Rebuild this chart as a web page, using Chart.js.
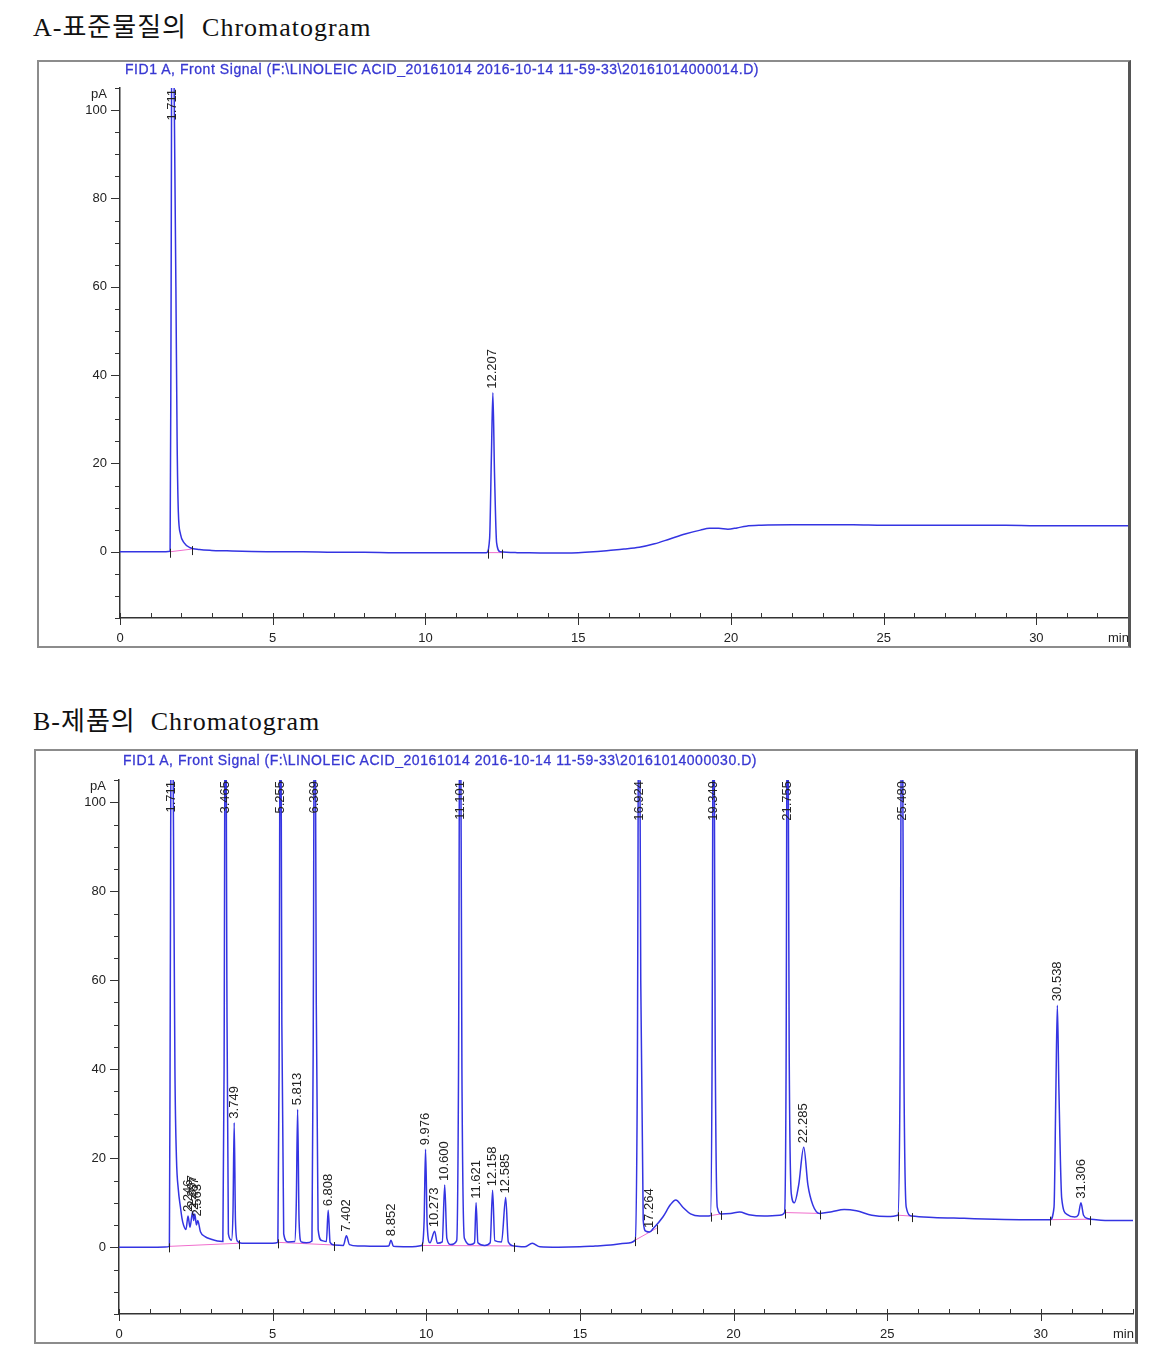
<!DOCTYPE html>
<html lang="ko">
<head>
<meta charset="utf-8">
<title>Chromatogram</title>
<script src="https://cdn.jsdelivr.net/npm/chart.js@4.4.1/dist/chart.umd.min.js"></script>
<style>
  html, body { margin: 0; padding: 0; background: #fff; }
  body { position: relative; width: 1155px; height: 1352px; overflow: hidden; }
  .caption { position: absolute; font-family: "Liberation Serif", "Noto Sans CJK KR", serif; font-size: 26px; line-height: 30px; color: #111; white-space: nowrap; letter-spacing: 1px; }
  .frame { position: absolute; box-sizing: border-box; border: 2px solid #8c8c8c; border-right: 3px solid #555; background: #fff; }
  .frame canvas { display: block; }
  .signal { position: absolute; font-family: "Liberation Sans", Arial, sans-serif; font-size: 14px; letter-spacing: 0.55px; color: #3838d2; white-space: nowrap; -webkit-text-stroke: 0.3px #3838d2; }
</style>
</head>
<body>

<div class="caption" style="left:33px; top:13px;">A-표준물질의 &nbsp;Chromatogram</div>
<div class="frame" style="left:37px; top:60px; width:1094px; height:588px;">
  <canvas id="chartA" width="1089" height="584"></canvas>
</div>
<div class="signal" style="left:125px; top:61px;">FID1 A, Front Signal (F:\LINOLEIC ACID_20161014 2016-10-14 11-59-33\20161014000014.D)</div>

<div class="caption" style="left:33px; top:707px;">B-제품의 &nbsp;Chromatogram</div>
<div class="frame" style="left:34px; top:749px; width:1104px; height:595px;">
  <canvas id="chartB" width="1099" height="591"></canvas>
</div>
<div class="signal" style="left:123px; top:752px;">FID1 A, Front Signal (F:\LINOLEIC ACID_20161014 2016-10-14 11-59-33\20161014000030.D)</div>

<script>
// ── 축 눈금 ────────────────────────────────────────────────
const xMajorTicks = [0, 5, 10, 15, 20, 25, 30];
const xMinorTicks = [0, 1, 2, 3, 4, 5, 6, 7, 8, 9, 10, 11, 12, 13, 14, 15, 16,
                     17, 18, 19, 20, 21, 22, 23, 24, 25, 26, 27, 28, 29, 30, 31, 32, 33];
const yMajorTicks = [0, 20, 40, 60, 80, 100];
const yMinorTicks = [-15, -10, -5, 0, 5, 10, 15, 20, 25, 30, 35, 40, 45, 50, 55,
                     60, 65, 70, 75, 80, 85, 90, 95, 100, 105];

// ── A: 표준물질 (min, pA) ──────────────────────────────────
const stdTime = [0, 0.5, 1.0, 1.5, 1.64, 1.67, 1.711, 1.76, 1.83, 1.87, 1.91, 1.98,
                 2.1, 2.3, 2.6, 3.0, 3.5, 4.0, 5.0, 6.0, 7.0, 8.0, 9.0, 10.0, 11.0,
                 12.0, 12.1, 12.16, 12.207, 12.26, 12.33, 12.45, 13.0, 14.0, 15.0,
                 15.5, 16.0, 16.5, 17.0, 17.5, 18.0, 18.5, 19.0, 19.3, 19.6, 19.9, 20.2, 20.5,
                 21.0, 22.0, 23.0, 24.0, 25.0, 26.0, 27.0, 28.0, 29.0, 30.0, 31.0, 32.0, 33.0];
const stdSignal = [0, 0, 0, 0, 0.1, 50, 150, 115, 60, 25, 9, 4,
                   2, 0.9, 0.5, 0.3, 0.2, 0.1, 0, 0, -0.1, -0.1, -0.2, -0.2, -0.2,
                   -0.2, 3, 22, 36, 18, 2, 0, -0.2, -0.3, -0.2,
                   0, 0.3, 0.6, 1.0, 1.8, 2.9, 4.0, 4.9, 5.3, 5.3, 5.1, 5.4, 5.8,
                   6.0, 6.1, 6.1, 6.1, 6.0, 6.0, 6.0, 6.0, 6.0, 5.9, 5.9, 5.9, 5.9];
const stdPeaks = [1.711, 12.207];
const stdBaseTime = [1.64, 2.35, 2.36, 12.05, 12.52];
const stdBaseSignal = [0, 0.6, null, -0.2, -0.2];

// ── B: 제품 (min, pA) ──────────────────────────────────────
const sampleTime = [
  0, 0.5, 1.0, 1.5, 1.64, 1.67, 1.711, 1.76, 1.82, 1.87, 1.93, 2.0, 2.05, 2.10, 2.18,
  2.246, 2.31, 2.397, 2.43, 2.467, 2.52, 2.563, 2.65, 2.8, 3.0, 3.2, 3.38, 3.42, 3.465,
  3.51, 3.56, 3.66, 3.71, 3.749, 3.79, 3.85, 4.0, 4.5, 5.0, 5.17, 5.21, 5.255, 5.30,
  5.36, 5.5, 5.72, 5.77, 5.813, 5.86, 5.93, 6.1, 6.28, 6.32, 6.369, 6.42, 6.48, 6.6,
  6.75, 6.808, 6.87, 7.0, 7.3, 7.402, 7.5, 7.8, 8.3, 8.78, 8.852, 8.93, 9.4, 9.85,
  9.93, 9.976, 10.03, 10.12, 10.273, 10.36, 10.52, 10.600, 10.67, 10.80, 10.99, 11.05,
  11.101, 11.16, 11.24, 11.45, 11.57, 11.621, 11.68, 11.9, 12.08, 12.158, 12.23, 12.45,
  12.585, 12.67, 12.85, 13.2, 13.45, 13.7, 14.3, 15.0, 15.5, 16.0, 16.5, 16.8, 16.87,
  16.924, 16.98, 17.06, 17.15, 17.264, 17.4, 17.7, 17.95, 18.12, 18.35, 18.6, 18.9,
  19.25, 19.30, 19.349, 19.40, 19.47, 19.6, 19.9, 20.2, 20.5, 21.0, 21.5, 21.66, 21.71,
  21.755, 21.81, 21.88, 21.98, 22.12, 22.285, 22.42, 22.58, 22.8, 23.2, 23.6, 24.0,
  24.5, 25.0, 25.35, 25.42, 25.480, 25.54, 25.62, 25.8, 26.5, 27.5, 28.5, 29.5, 30.3,
  30.43, 30.49, 30.538, 30.59, 30.68, 30.85, 31.1, 31.22, 31.306, 31.39, 31.55, 31.8,
  32.3, 33.0
];
const sampleSignal = [
  0, 0, 0, 0.05, 0.2, 60, 150, 110, 40, 20, 13, 9, 6.5, 5, 4,
  7, 4.5, 8, 6, 7.5, 5, 6, 3.5, 2.4, 1.8, 1.4, 1.3, 40, 150,
  60, 3, 1.6, 8, 28, 6, 1.4, 0.9, 0.9, 0.9, 1.1, 40, 150, 50,
  3, 1.2, 1.3, 10, 31, 6, 1.2, 1.0, 1.4, 45, 150, 55, 4, 1.5,
  1.3, 8.3, 1.1, 0.5, 0.4, 2.6, 0.6, 0.3, 0.2, 0.3, 1.6, 0.2, 0.1, 0.4,
  6, 22, 5, 1.0, 3.6, 0.9, 1.2, 14, 2, 0.6, 1.5, 40,
  150, 40, 2, 0.6, 1.0, 10, 1.0, 0.4, 1.0, 12.8, 1.5, 1.2,
  11.2, 1.2, 0.3, 0.1, 0.9, 0.1, 0, 0.1, 0.3, 0.5, 0.9, 1.6, 40,
  150, 60, 6, 3.6, 3.4, 4.3, 6.8, 9.6, 10.6, 9, 7.5, 7.0,
  7.1, 40, 150, 50, 9, 7.5, 7.6, 7.9, 7.3, 7.0, 7.2, 7.8, 40,
  150, 45, 12, 10, 14, 22.5, 14, 9.5, 7.6, 8.0, 8.5, 8.2,
  7.2, 6.9, 7.2, 40, 150, 45, 9, 7.0, 6.7, 6.5, 6.3, 6.2, 6.2,
  9, 35, 54.4, 35, 11, 7.4, 6.8, 7.3, 10, 7.2, 6.4, 6.2,
  6.0, 6.0
];
const samplePeaks = [1.711, 2.246, 2.397, 2.467, 2.563, 3.465, 3.749, 5.255, 5.813, 6.369,
                     6.808, 7.402, 8.852, 9.976, 10.273, 10.600, 11.101, 11.621, 12.158,
                     12.585, 16.924, 17.264, 19.349, 21.755, 22.285, 25.480, 30.538, 31.306];
const sampleBaseTime = [1.64, 3.90, 3.91, 5.17, 7.0, 7.01, 9.85, 12.85, 12.86, 16.8, 17.5,
                        17.51, 19.25, 19.6, 19.61, 21.66, 22.8, 22.81, 25.35, 25.8, 25.81,
                        30.3, 31.6];
const sampleBaseSignal = [0.2, 0.9, null, 1.1, 0.5, null, 0.4, 0.3, null, 1.6, 4.3,
                          null, 7.1, 7.5, null, 7.8, 7.6, null, 7.2, 7.0, null,
                          6.2, 6.3];

const AXIS_FONT = '13px "Liberation Sans", Arial, sans-serif';

// ── 눈금, 피크 라벨, 적분 표시 ──────────────────────────────
const chromDecor = {
    id: 'chromDecor',
    afterDatasetsDraw(chart, args, opts) {
        const { ctx, chartArea: area, scales: { x, y } } = chart;
        ctx.save();
        ctx.strokeStyle = '#333';
        ctx.lineWidth = 1;

        xMinorTicks.forEach(v => {
            const px = Math.round(x.getPixelForValue(v)) + 0.5;
            ctx.beginPath();
            ctx.moveTo(px, area.bottom - 5);
            ctx.lineTo(px, xMajorTicks.includes(v) ? area.bottom + 7 : area.bottom);
            ctx.stroke();
        });
        yMinorTicks.forEach(v => {
            const py = Math.round(y.getPixelForValue(v)) + 0.5;
            ctx.beginPath();
            ctx.moveTo(area.left, py);
            ctx.lineTo(area.left - (yMajorTicks.includes(v) ? 9 : 5), py);
            ctx.stroke();
        });

        // 적분 시작/끝 표시
        ctx.strokeStyle = '#222';
        opts.baseTime.forEach((t, i) => {
            const v = opts.baseSignal[i];
            if (v === null) return;
            const px = Math.round(x.getPixelForValue(t)) + 0.5;
            const py = y.getPixelForValue(v);
            ctx.beginPath();
            ctx.moveTo(px, py - 3);
            ctx.lineTo(px, py + 6);
            ctx.stroke();
        });

        ctx.font = AXIS_FONT;
        ctx.fillStyle = '#222';
        ctx.textBaseline = 'middle';
        ctx.textAlign = 'right';
        ctx.fillText('pA', area.left - 13, area.top + 6);
        ctx.textAlign = 'left';
        ctx.fillText('min', area.right - 20, area.bottom + 20);

        // 피크 머무름 시간 라벨
        opts.peaks.forEach(t => {
            const v = opts.signal[opts.time.indexOf(t)];
            const label = t.toFixed(3);
            const w = ctx.measureText(label).width;
            const px = x.getPixelForValue(t);
            const bottom = v > y.max ? area.top + 1 + w : y.getPixelForValue(v) - 4;
            ctx.save();
            ctx.translate(px, bottom);
            ctx.rotate(-Math.PI / 2);
            ctx.textAlign = 'left';
            ctx.textBaseline = 'middle';
            ctx.fillText(label, 0, 0);
            ctx.restore();
        });
        ctx.restore();
    }
};

function makeChromatogram(canvasId, time, signal, baseTime, baseSignal, peaks, frame) {
    const toPoints = (ts, vs) => ts.map((t, i) => ({ x: t, y: vs[i] }));
    return new Chart(document.getElementById(canvasId), {
        type: 'line',
        data: {
            datasets: [{
                data: toPoints(time, signal),
                borderColor: 'rgb(52,52,226)',
                borderWidth: 1.5,
                pointRadius: 0,
                cubicInterpolationMode: 'monotone',
                order: 1
            }, {
                data: toPoints(baseTime, baseSignal),
                borderColor: 'rgb(240,110,205)',
                borderWidth: 1,
                pointRadius: 0,
                spanGaps: false,
                order: 2
            }]
        },
        options: {
            responsive: false,
            animation: false,
            events: [],
            layout: { autoPadding: false, padding: { top: frame.top, right: frame.right, left: 0, bottom: 0 } },
            plugins: {
                legend: { display: false },
                tooltip: { enabled: false },
                chromDecor: { time, signal, baseTime, baseSignal, peaks }
            },
            scales: {
                x: {
                    type: 'linear', min: 0, max: 33,
                    afterBuildTicks: axis => { axis.ticks = xMajorTicks.map(v => ({ value: v })); },
                    afterFit: axis => { axis.height = 28; },
                    grid: { display: false, drawTicks: false },
                    border: { display: true, color: '#333', width: 1.5 },
                    ticks: { color: '#222', font: { family: '"Liberation Sans", Arial', size: 13 }, padding: 13, maxRotation: 0, autoSkip: false }
                },
                y: {
                    type: 'linear', min: -15, max: 105,
                    afterBuildTicks: axis => { axis.ticks = yMajorTicks.map(v => ({ value: v })); },
                    afterFit: axis => { axis.width = frame.axisWidth; },
                    grid: { display: false, drawTicks: false },
                    border: { display: true, color: '#333', width: 1.5 },
                    ticks: { color: '#222', font: { family: '"Liberation Sans", Arial', size: 13 }, padding: 13, autoSkip: false }
                }
            }
        },
        plugins: [chromDecor]
    });
}

makeChromatogram('chartA', stdTime, stdSignal, stdBaseTime, stdBaseSignal, stdPeaks,
                 { top: 26, right: 0, axisWidth: 81 });
makeChromatogram('chartB', sampleTime, sampleSignal, sampleBaseTime, sampleBaseSignal, samplePeaks,
                 { top: 29, right: 2, axisWidth: 83 });
</script>
</body>
</html>
